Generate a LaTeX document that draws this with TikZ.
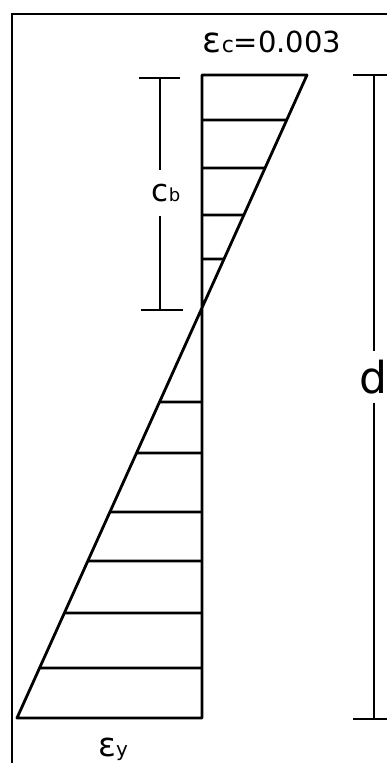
\documentclass[tikz,border=0pt]{standalone}
\usepackage{fontspec}
\setmainfont{DejaVu Sans}
\usetikzlibrary{calc}

\begin{document}
\begin{tikzpicture}[x=1pt,y=-1pt,
    strain/.style={line width=2.8pt,line join=round},
    frame/.style={line width=2pt},
    dim/.style={line width=2.6pt},
    lbl/.style={inner sep=0pt,font=\fontsize{29}{32}\selectfont},
    gap/.style={lbl,minimum height=#1}
  ]
    \useasboundingbox (0,0) rectangle (387,763);
    % frame
    \draw[frame] (12,763) -- (12,14) -- (387,14);
    % strain diagram
    \coordinate (top) at (202,75);
    \coordinate (tip) at (307,75);
    \coordinate (foot) at (202,718);
    \coordinate (base) at (17,718);
    \draw[strain] (tip) -- (top) -- (foot) -- (base) -- cycle;
    \foreach \y in {120,168,215,259,402,453,512,561,613,668}
      \draw[strain] (202,\y) -- ($(tip)!{(\y-75)/643}!(base)$);
    \node[lbl] (ec) at (272,42) {{\fontsize{35}{35}\selectfont ε}{\fontsize{22}{22}\selectfont c}=0.003};
    \node[lbl] (ey) at (113,749) {{\fontsize{33}{33}\selectfont ε}{\fontsize{20}{20}\selectfont y}};
    % c_b
    \coordinate (cbtop) at (160,78);
    \coordinate (cbbot) at (160,310);
    \node[gap=46pt] (cb) at (166,193) {{\fontsize{31}{31}\selectfont c}{\fontsize{18}{18}\selectfont b}};
    \draw[dim] ($(cbtop)+(-21,0)$) -- ($(cbtop)+(20,0)$);
    \draw[dim] ($(cbbot)+(-19,0)$) -- ($(cbbot)+(23,0)$);
    \draw[dim] (cbtop) -- (cbtop|-cb.north);
    \draw[dim] (cbbot|-cb.south) -- (cbbot);
    % d
    \coordinate (dtop) at (374,75);
    \coordinate (dbot) at (374,719);
    \node[gap=51pt,font=\fontsize{44}{44}\selectfont] (d) at (373,377) {d};
    \draw[dim] ($(dtop)+(-21,0)$) -- ($(dtop)+(13,0)$);
    \draw[dim] ($(dbot)+(-21,0)$) -- ($(dbot)+(13,0)$);
    \draw[dim] (dtop) -- (dtop|-d.north);
    \draw[dim] (dbot|-d.south) -- (dbot);
\end{tikzpicture}
\end{document}
